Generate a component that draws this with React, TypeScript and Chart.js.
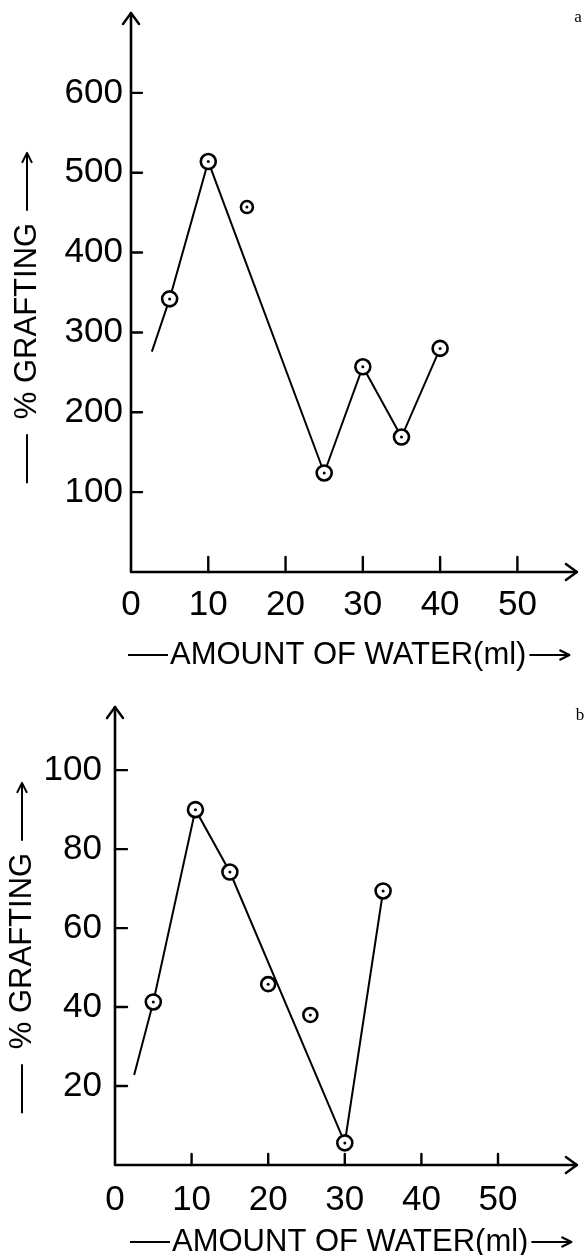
import React, { useEffect, useRef } from "react";
import { Chart, registerables } from "chart.js";

Chart.register(...registerables);

// ---------- data ----------
const xTicks = [0, 10, 20, 30, 40, 50];

const aLineX = [2.7, 5, 10, 25, 30, 35, 40];
const aLineY = [276, 342, 514, 124, 257, 169, 280];
const aLooseX = [15];
const aLooseY = [457];
const aYTicks = [100, 200, 300, 400, 500, 600];

const bLineX = [2.5, 5, 10.5, 15, 30, 35];
const bLineY = [22.8, 41.3, 90, 74.2, 5.6, 69.4];
const bLooseX = [20, 25.5];
const bLooseY = [45.8, 38];
const bYTicks = [20, 40, 60, 80, 100];

const xTitle = "AMOUNT OF WATER(ml)";
const yTitle = "% GRAFTING";

const SANS = "'Liberation Sans', Arial, Helvetica, sans-serif";
const SERIF = "'Liberation Serif', 'Times New Roman', serif";

type Panel = {
  letter: string;
  top: number;
  height: number;
  lineX: number[];
  lineY: number[];
  looseX: number[];
  looseY: number[];
  yTicks: number[];
  xMax: number;
  yMax: number;
  padTop: number;
  padRight: number;
  yWidth: number;
  xHeight: number;
  yLabelPad: number;
  xLabelPad: number;
  xTickLen: number;
  yTickLen: number;
  yTitleX: number;
  yTitleCY: number;
  xTitleY: number;
  xTitleStart: number;
  letterX: number;
  letterY: number;
  looseRadius: number;
};

const panels: Panel[] = [
  {
    letter: "a",
    top: 0,
    height: 675,
    lineX: aLineX,
    lineY: aLineY,
    looseX: aLooseX,
    looseY: aLooseY,
    yTicks: aYTicks,
    xMax: 57.7,
    yMax: 700,
    padTop: 13,
    padRight: 5,
    yWidth: 131,
    xHeight: 103,
    yLabelPad: 8,
    xLabelPad: 12,
    xTickLen: 15,
    yTickLen: 11,
    yTitleX: 27,
    yTitleCY: 321,
    xTitleY: 655,
    xTitleStart: 170,
    letterX: 578,
    letterY: 18,
    looseRadius: 6,
  },
  {
    letter: "b",
    top: 675,
    height: 580,
    lineX: bLineX,
    lineY: bLineY,
    looseX: bLooseX,
    looseY: bLooseY,
    yTicks: bYTicks,
    xMax: 60.3,
    yMax: 116,
    padTop: 32,
    padRight: 4,
    yWidth: 115,
    xHeight: 90,
    yLabelPad: 13,
    xLabelPad: 14,
    xTickLen: 11,
    yTickLen: 12,
    yTitleX: 22,
    yTitleCY: 276,
    xTitleY: 567,
    xTitleStart: 172,
    letterX: 580,
    letterY: 41,
    looseRadius: 7,
  },
];

function makePlugin(p: Panel) {
  return {
    id: "panelDecor" + p.letter,
    afterDatasetsDraw(chart: any) {
      const ctx = chart.ctx;
      // center dots of the markers
      ctx.save();
      ctx.fillStyle = "#000";
      chart.data.datasets.forEach((_: any, di: number) => {
        const meta = chart.getDatasetMeta(di);
        meta.data.forEach((el: any) => {
          const r = el.options && el.options.radius;
          if (!r) return;
          ctx.beginPath();
          ctx.arc(el.x, el.y, 1.5, 0, Math.PI * 2);
          ctx.fill();
        });
      });
      ctx.restore();
    },
    afterDraw(chart: any) {
      const ctx = chart.ctx;
      const { left, right, top, bottom } = chart.chartArea;
      const xs = chart.scales.x;
      const ys = chart.scales.y;
      ctx.save();
      ctx.strokeStyle = "#000";
      ctx.fillStyle = "#000";
      ctx.lineCap = "round";
      ctx.lineJoin = "round";
      // axes
      ctx.lineWidth = 2.6;
      ctx.beginPath();
      ctx.moveTo(left, bottom);
      ctx.lineTo(left, top);
      ctx.moveTo(left, bottom);
      ctx.lineTo(right, bottom);
      ctx.stroke();
      // arrowheads
      ctx.lineWidth = 2.4;
      ctx.beginPath();
      ctx.moveTo(left - 8, top + 11);
      ctx.lineTo(left, top);
      ctx.lineTo(left + 8, top + 11);
      ctx.moveTo(right - 11, bottom - 8);
      ctx.lineTo(right, bottom);
      ctx.lineTo(right - 11, bottom + 8);
      ctx.stroke();
      // inward ticks
      ctx.lineWidth = 2.4;
      ctx.beginPath();
      xTicks.forEach((v) => {
        if (v === 0) return;
        const px = xs.getPixelForValue(v);
        ctx.moveTo(px, bottom);
        ctx.lineTo(px, bottom - p.xTickLen);
      });
      p.yTicks.forEach((v) => {
        const py = ys.getPixelForValue(v);
        ctx.moveTo(left, py);
        ctx.lineTo(left + p.yTickLen, py);
      });
      ctx.stroke();

      // y title
      ctx.font = `31px ${SANS}`;
      ctx.lineWidth = 2;
      ctx.lineCap = "butt";
      ctx.save();
      ctx.translate(p.yTitleX, p.yTitleCY);
      ctx.rotate(-Math.PI / 2);
      ctx.textAlign = "center";
      ctx.textBaseline = "middle";
      ctx.fillText(yTitle, 0, 0);
      const wy = ctx.measureText(yTitle).width;
      ctx.beginPath();
      ctx.moveTo(-wy / 2 - 15, 0);
      ctx.lineTo(-wy / 2 - 64, 0);
      const a0 = wy / 2 + 12;
      const a1 = wy / 2 + 70;
      ctx.moveTo(a0, 0);
      ctx.lineTo(a1, 0);
      ctx.moveTo(a1 - 10, -5);
      ctx.lineTo(a1, 0);
      ctx.lineTo(a1 - 10, 5);
      ctx.stroke();
      ctx.restore();

      // x title
      ctx.textAlign = "left";
      ctx.textBaseline = "middle";
      ctx.fillText(xTitle, p.xTitleStart, p.xTitleY);
      const wx = ctx.measureText(xTitle).width;
      ctx.beginPath();
      ctx.moveTo(p.xTitleStart - 42, p.xTitleY);
      ctx.lineTo(p.xTitleStart - 2, p.xTitleY);
      const b0 = p.xTitleStart + wx + 3;
      const b1 = b0 + 40;
      ctx.moveTo(b0, p.xTitleY);
      ctx.lineTo(b1, p.xTitleY);
      ctx.moveTo(b1 - 10, p.xTitleY - 5);
      ctx.lineTo(b1, p.xTitleY);
      ctx.lineTo(b1 - 10, p.xTitleY + 5);
      ctx.stroke();

      // panel letter
      ctx.font = `17px ${SERIF}`;
      ctx.textAlign = "center";
      ctx.fillText(p.letter, p.letterX, p.letterY);
      ctx.restore();
    },
  };
}

function PanelChart({ p }: { p: Panel }) {
  const ref = useRef<HTMLCanvasElement | null>(null);
  useEffect(() => {
    if (!ref.current) return;
    const tickFont = { family: SANS, size: 35 };
    const chart = new Chart(ref.current, {
      type: "scatter",
      data: {
        datasets: [
          {
            data: p.lineX.map((x, i) => ({ x, y: p.lineY[i] })),
            showLine: true,
            borderColor: "#000",
            borderWidth: 2,
            tension: 0,
            pointRadius: p.lineX.map((_, i) => (i === 0 ? 0 : 7.5)),
            pointBackgroundColor: "#fff",
            pointBorderColor: "#000",
            pointBorderWidth: 2.6,
          },
          {
            data: p.looseX.map((x, i) => ({ x, y: p.looseY[i] })),
            showLine: false,
            pointRadius: p.looseRadius,
            pointBackgroundColor: "#fff",
            pointBorderColor: "#000",
            pointBorderWidth: 2.6,
          },
        ],
      } as any,
      options: {
        animation: false,
        responsive: false,
        events: [],
        layout: { padding: { top: p.padTop, right: p.padRight, left: 0, bottom: 0 } },
        plugins: { legend: { display: false }, tooltip: { enabled: false } },
        scales: {
          x: {
            type: "linear",
            min: 0,
            max: p.xMax,
            afterBuildTicks: (s: any) => {
              s.ticks = xTicks.map((v) => ({ value: v }));
            },
            afterFit: (s: any) => {
              s.height = p.xHeight;
              s.paddingLeft = 0;
              s.paddingRight = 0;
              s.paddingTop = 0;
              s.paddingBottom = 0;
            },
            grid: { display: false, drawTicks: false, tickLength: 0 },
            border: { display: false },
            ticks: {
              color: "#000",
              font: tickFont,
              padding: p.xLabelPad,
              maxRotation: 0,
              minRotation: 0,
              autoSkip: false,
              callback: (v: any) => String(v),
            },
          },
          y: {
            type: "linear",
            min: 0,
            max: p.yMax,
            afterBuildTicks: (s: any) => {
              s.ticks = p.yTicks.map((v) => ({ value: v }));
            },
            afterFit: (s: any) => {
              s.width = p.yWidth;
              s.paddingLeft = 0;
              s.paddingRight = 0;
              s.paddingTop = 0;
              s.paddingBottom = 0;
            },
            grid: { display: false, drawTicks: false, tickLength: 0 },
            border: { display: false },
            ticks: {
              color: "#000",
              font: tickFont,
              padding: p.yLabelPad,
              autoSkip: false,
              callback: (v: any) => String(v),
            },
          },
        },
      } as any,
      plugins: [makePlugin(p)],
    });
    return () => chart.destroy();
  }, [p]);
  return (
    <canvas
      ref={ref}
      width={587}
      height={p.height}
      style={{ position: "absolute", left: 0, top: p.top, width: 587, height: p.height, display: "block" }}
    />
  );
}

export default function App() {
  return (
    <div style={{ position: "absolute", left: 0, top: 0, width: 587, height: 1255, background: "#fff" }}>
      {panels.map((p) => (
        <PanelChart key={p.letter} p={p} />
      ))}
    </div>
  );
}
